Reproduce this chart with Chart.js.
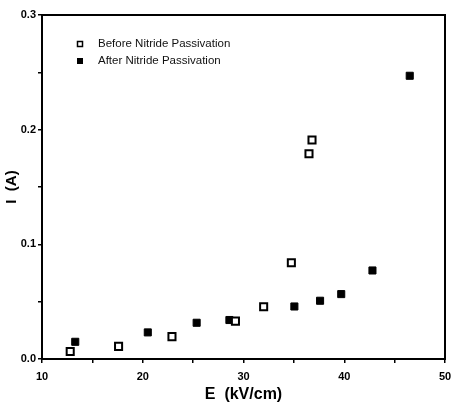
<!DOCTYPE html>
<html>
<head>
<meta charset="utf-8">
<script src="https://cdn.jsdelivr.net/npm/chart.js@4"></script>
<style>
  html, body { margin: 0; padding: 0; background: #fff; }
  #wrap { width: 452px; height: 412px; }
</style>
</head>
<body>
<div id="wrap"><canvas id="chart"></canvas></div>
<script>
// Before nitride passivation (open squares)
const beforeE = [12.8, 17.6, 22.9, 29.2, 32.0, 34.75, 36.5, 36.8];
const beforeI = [0.0065, 0.011, 0.0195, 0.033, 0.0455, 0.084, 0.179, 0.191];
// After nitride passivation (filled squares)
const afterE = [13.3, 20.5, 25.35, 28.6, 35.05, 37.6, 39.7, 42.8, 46.5];
const afterI = [0.015, 0.0232, 0.0316, 0.034, 0.0458, 0.0508, 0.0566, 0.0772, 0.247];

const seriesLabels = ['Before Nitride Passivation', 'After Nitride Passivation'];
const xTicks = [10, 20, 30, 40, 50];
const yTicks = [0.0, 0.1, 0.2, 0.3];

function toPoints(xs, ys) {
  let pts = [];
  for (let i = 0; i < xs.length; i++) {
    pts.push({x: xs[i], y: ys[i]});
  }
  return pts;
}

const fontFamily = '"Liberation Sans", Arial, Helvetica, sans-serif';

// box around plot area + legend inside it
const framePlugin = {
  id: 'frame',
  afterDraw(chart) {
    const ctx = chart.ctx;
    const a = chart.chartArea;
    ctx.save();
    ctx.strokeStyle = '#000';
    ctx.lineWidth = 2;
    ctx.strokeRect(a.left, a.top, a.right - a.left, a.bottom - a.top);

    // legend
    ctx.font = '11.5px ' + fontFamily;
    ctx.textBaseline = 'middle';
    chart.data.datasets.forEach((ds, i) => {
      const y = a.top + 29 + i * 17;
      const x = a.left + 38;
      ctx.lineWidth = 1.5;
      if (ds.backgroundColor === '#fff') {
        ctx.strokeStyle = '#000';
        ctx.fillStyle = '#fff';
        ctx.fillRect(x - 2.5, y - 2.5, 5, 5);
        ctx.strokeRect(x - 2.5, y - 2.5, 5, 5);
      } else {
        ctx.fillStyle = '#000';
        ctx.fillRect(x - 3, y - 3, 6, 6);
      }
      ctx.fillStyle = '#111';
      ctx.fillText(ds.label, x + 18, y);
    });
    ctx.restore();
  }
};

new Chart(document.getElementById('chart'), {
  type: 'scatter',
  data: {
    datasets: [{
      label: seriesLabels[0],
      data: toPoints(beforeE, beforeI),
      pointStyle: 'rect',
      pointRadius: 5,
      borderWidth: 2,
      borderColor: '#000',
      backgroundColor: '#fff'
    }, {
      label: seriesLabels[1],
      data: toPoints(afterE, afterI),
      pointStyle: 'rect',
      pointRadius: 5,
      borderWidth: 1,
      borderColor: '#000',
      backgroundColor: '#000'
    }]
  },
  options: {
    responsive: true,
    maintainAspectRatio: false,
    animation: false,
    layout: { padding: { top: 15, right: 6, left: 0, bottom: 0 } },
    plugins: {
      legend: { display: false },
      tooltip: { enabled: false }
    },
    scales: {
      x: {
        type: 'linear',
        min: 10,
        max: 50,
        afterFit(scale) {
          scale.height = 53;
          scale.paddingLeft = 0;
          scale.paddingRight = 0;
        },
        ticks: {
          stepSize: 5,
          color: '#000',
          font: { family: fontFamily, size: 11, weight: 'bold' },
          padding: 7,
          maxRotation: 0,
          callback: (v) => xTicks.includes(v) ? String(v) : ''
        },
        grid: { display: true, drawOnChartArea: false, tickLength: 4, color: '#000', lineWidth: 1.5 },
        border: { display: false },
        title: {
          display: true,
          text: 'E  (kV/cm)',
          color: '#000',
          font: { family: fontFamily, size: 16, weight: 'bold' },
          padding: { top: 2, bottom: 8 }
        }
      },
      y: {
        type: 'linear',
        min: 0,
        max: 0.3,
        afterFit(scale) { scale.width = 42; },
        ticks: {
          stepSize: 0.05,
          color: '#000',
          font: { family: fontFamily, size: 11, weight: 'bold' },
          padding: 2,
          callback: (v) => {
            const r = Math.round(v * 100) / 100;
            return yTicks.some(t => Math.abs(t - r) < 1e-6) ? r.toFixed(1) : '';
          }
        },
        grid: { display: true, drawOnChartArea: false, tickLength: 4, color: '#000', lineWidth: 1.5 },
        border: { display: false },
        title: {
          display: true,
          text: 'I  (A)',
          color: '#000',
          font: { family: fontFamily, size: 15, weight: 'bold' },
          padding: { top: 3, bottom: 0 }
        }
      }
    }
  },
  plugins: [framePlugin]
});
</script>
</body>
</html>
